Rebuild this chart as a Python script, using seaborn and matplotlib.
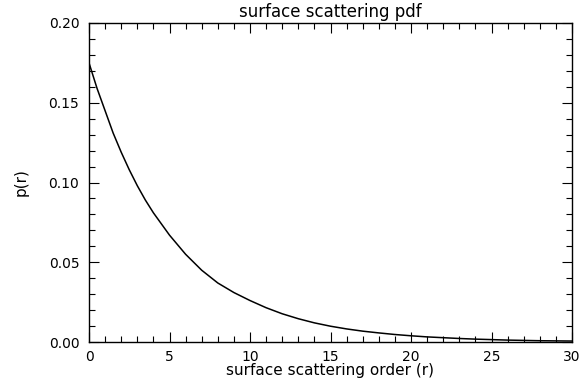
import numpy as np
import pandas as pd
import matplotlib
matplotlib.use("Agg")
import matplotlib.pyplot as plt
from matplotlib.ticker import MultipleLocator, FixedLocator
import seaborn as sns

# scattering order and its probability
order = [0, 0.5, 1, 1.5, 2, 2.5, 3, 3.5, 4, 4.5, 5, 6, 7, 8, 9,
         10, 11, 12, 13, 14, 15, 16, 17, 18, 19, 20, 21, 22, 23, 24,
         25, 26, 27, 28, 29, 30]
prob = [0.175, 0.159, 0.145, 0.131, 0.119, 0.108, 0.098, 0.089, 0.081, 0.074,
        0.067, 0.055, 0.045, 0.037, 0.031,
        0.026, 0.0215, 0.0177, 0.0146, 0.012, 0.0099, 0.0082, 0.0068, 0.0057, 0.0047,
        0.0039, 0.0032, 0.0027, 0.0022, 0.0018, 0.0015, 0.0012, 0.0010, 0.0008, 0.0007,
        0.0006]

x_ticks = [0, 5, 10, 15, 20, 25, 30]
x_tick_labels = ["0", "5", "10", "15", "20", "25", "30"]
y_ticks = [0.00, 0.05, 0.10, 0.15, 0.20]
y_tick_labels = ["0.00", "0.05", "0.10", "0.15", "0.20"]

df = pd.DataFrame({"r": order, "p": prob})

sns.set_theme(style="ticks")
plt.rcParams["font.family"] = ["DejaVu Sans"]
plt.rcParams["axes.linewidth"] = 1.0

fig = plt.figure(figsize=(5.79, 3.84), dpi=100)
ax = fig.add_axes([89 / 579, 1 - 342 / 384, (572 - 89) / 579, (342 - 23) / 384])

sns.lineplot(data=df, x="r", y="p", ax=ax, color="black", linewidth=1.1)

ax.set_xlim(0, 30)
ax.set_ylim(0, 0.20)
ax.xaxis.set_major_locator(FixedLocator(x_ticks))
ax.set_xticklabels(x_tick_labels)
ax.yaxis.set_major_locator(FixedLocator(y_ticks))
ax.set_yticklabels(y_tick_labels)
ax.xaxis.set_minor_locator(MultipleLocator(1))
ax.yaxis.set_minor_locator(MultipleLocator(0.01))

for s in ax.spines.values():
    s.set_color("black")
    s.set_linewidth(1.0)

ax.tick_params(which="both", direction="in", top=True, right=True,
               color="black", width=0.8)
ax.tick_params(which="major", length=7, labelsize=10, labelcolor="black")
ax.tick_params(which="minor", length=4)
ax.tick_params(axis="x", which="major", pad=6)
ax.tick_params(axis="y", which="major", pad=7)

ax.set_xlabel("surface scattering order (r)", fontsize=11, color="black", labelpad=-1)
ax.set_ylabel("p(r)", fontsize=11, color="black", labelpad=14)
ax.set_title("surface scattering pdf", fontsize=12, color="black", pad=4)

fig.savefig("out.png", dpi=100)
